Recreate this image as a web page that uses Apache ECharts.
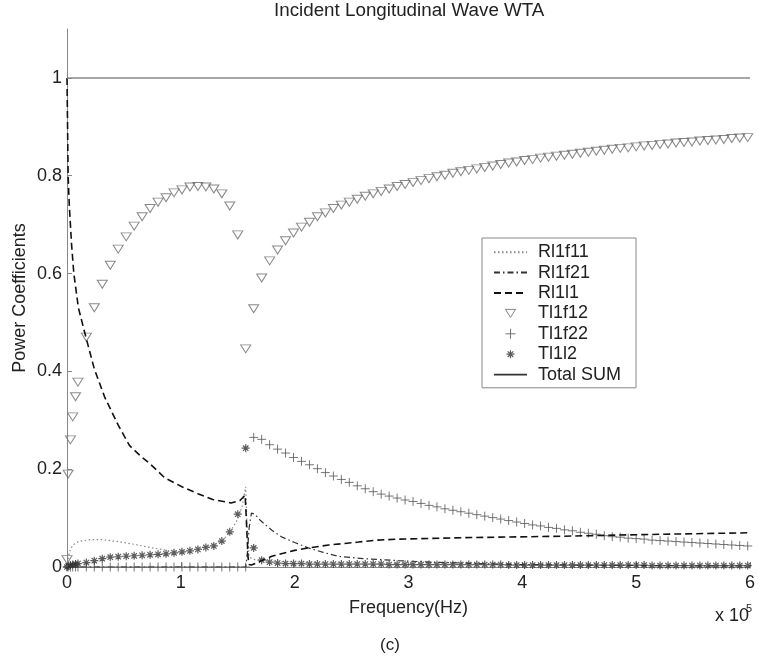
<!DOCTYPE html>
<html>
<head>
<meta charset="utf-8">
<script src="https://cdn.jsdelivr.net/npm/echarts@6/dist/echarts.min.js"></script>
<style>
html,body{margin:0;padding:0;background:#fff;}
#chart{width:758px;height:662px;}
</style>
</head>
<body>
<div id="chart"></div>
<script>
// ---------- DATA ----------
const xTicks = [0, 1, 2, 3, 4, 5, 6];
const yTicks = [0, 0.2, 0.4, 0.6, 0.8, 1];

// dense low-frequency sample points (x 10^5 Hz)
const freqLow = [0, 0.01, 0.03, 0.05, 0.075, 0.096];
// regular sample points (x 10^5 Hz)
const freqGrid = [0.17, 0.24, 0.31, 0.38, 0.45, 0.52, 0.59, 0.66, 0.73, 0.80,
  0.87, 0.94, 1.01, 1.08, 1.15, 1.22, 1.29, 1.36, 1.43, 1.50,
  1.57, 1.64, 1.71, 1.78, 1.85, 1.92, 1.99, 2.06, 2.13, 2.20,
  2.27, 2.34, 2.41, 2.48, 2.55, 2.62, 2.69, 2.76, 2.83, 2.90,
  2.97, 3.04, 3.11, 3.18, 3.25, 3.32, 3.39, 3.46, 3.53, 3.60,
  3.67, 3.74, 3.81, 3.88, 3.95, 4.02, 4.09, 4.16, 4.23, 4.30,
  4.37, 4.44, 4.51, 4.58, 4.65, 4.72, 4.79, 4.86, 4.93, 5.00,
  5.07, 5.14, 5.21, 5.28, 5.35, 5.42, 5.49, 5.56, 5.63, 5.70,
  5.77, 5.84, 5.91, 5.98];

// Tl1f12 (triangles)
const tl1f12Low = [0.015, 0.19, 0.26, 0.307, 0.348, 0.378];
const tl1f12 = [0.47, 0.53, 0.578, 0.617, 0.65, 0.675, 0.697, 0.716, 0.733, 0.746,
  0.755, 0.765, 0.771, 0.777, 0.778, 0.777, 0.773, 0.763, 0.738, 0.679,
  0.446, 0.528, 0.591, 0.626, 0.648, 0.667, 0.683, 0.695, 0.705, 0.716,
  0.724, 0.733, 0.740, 0.746, 0.752, 0.758, 0.763, 0.768, 0.773, 0.778,
  0.782, 0.786, 0.790, 0.794, 0.798, 0.801, 0.805, 0.808, 0.811, 0.814,
  0.817, 0.820, 0.823, 0.826, 0.828, 0.831, 0.833, 0.836, 0.838, 0.840,
  0.842, 0.844, 0.846, 0.848, 0.850, 0.852, 0.854, 0.856, 0.857, 0.859,
  0.861, 0.862, 0.864, 0.865, 0.867, 0.868, 0.869, 0.871, 0.872, 0.873,
  0.874, 0.876, 0.877, 0.878];

// Tl1f22 (plus)
const tl1f22Low = [0, 0, 0, 0, 0, 0];
const tl1f22 = [0, 0, 0, 0, 0, 0, 0, 0, 0, 0,
  0, 0, 0, 0, 0, 0, 0, 0, 0, 0,
  0, 0.265, 0.261, 0.250, 0.241, 0.233, 0.224, 0.216, 0.209, 0.201,
  0.193, 0.186, 0.179, 0.173, 0.166, 0.160, 0.154, 0.149, 0.145, 0.141,
  0.137, 0.134, 0.130, 0.126, 0.123, 0.119, 0.116, 0.113, 0.110, 0.107,
  0.104, 0.101, 0.098, 0.095, 0.092, 0.089, 0.086, 0.084, 0.081, 0.079,
  0.076, 0.074, 0.071, 0.069, 0.067, 0.064, 0.062, 0.061, 0.059, 0.058,
  0.057, 0.055, 0.054, 0.053, 0.052, 0.051, 0.050, 0.049, 0.048, 0.047,
  0.046, 0.045, 0.044, 0.043];

// Tl1l2 (asterisks)
const tl1l2Low = [0, 0.002, 0.004, 0.005, 0.006, 0.007];
const tl1l2 = [0.009, 0.013, 0.017, 0.020, 0.021, 0.022, 0.023, 0.024, 0.025, 0.026,
  0.027, 0.029, 0.031, 0.033, 0.036, 0.040, 0.043, 0.053, 0.072, 0.108,
  0.243, 0.039, 0.014, 0.010, 0.008, 0.007, 0.007, 0.007, 0.006, 0.006,
  0.006, 0.006, 0.006, 0.006, 0.006, 0.006, 0.006, 0.006, 0.005, 0.005,
  0.005, 0.005, 0.005, 0.005, 0.005, 0.005, 0.005, 0.005, 0.005, 0.005,
  0.005, 0.005, 0.005, 0.004, 0.004, 0.004, 0.004, 0.004, 0.004, 0.004,
  0.004, 0.004, 0.004, 0.004, 0.004, 0.004, 0.004, 0.004, 0.004, 0.004,
  0.004, 0.003, 0.003, 0.003, 0.003, 0.003, 0.003, 0.003, 0.003, 0.003,
  0.003, 0.003, 0.003, 0.003];

// Rl1l1 (dashed)
const rl1l1X = [0, 0.005, 0.01, 0.02, 0.04, 0.06, 0.1, 0.166, 0.24, 0.33, 0.45, 0.55, 0.655, 0.725, 0.86, 1.01, 1.15, 1.28, 1.44, 1.52, 1.565,
  1.575, 1.59, 1.60, 1.62, 1.7, 1.8, 1.9, 2.0, 2.12, 2.3, 2.56, 2.73, 2.91, 3.5, 4.37, 5.0, 5.5, 6.0];
const rl1l1Y = [1.0, 0.9, 0.8, 0.74, 0.66, 0.60, 0.53, 0.47, 0.405, 0.348, 0.29, 0.248, 0.225, 0.212, 0.182, 0.164, 0.15, 0.138, 0.131, 0.136, 0.147,
  0.10, 0.02, 0.005, 0.004, 0.012, 0.022, 0.028, 0.034, 0.039, 0.045, 0.051, 0.055, 0.057, 0.060, 0.063, 0.066, 0.068, 0.07];

// Rl1f21 (dash-dot)
const rl1f21X = [0, 1.57, 1.585, 1.60, 1.62, 1.65, 1.7, 1.8, 1.89, 2.0, 2.12, 2.25, 2.38, 2.6, 2.91, 3.2, 3.6, 4.0, 5.0, 6.0];
const rl1f21Y = [0, 0, 0.03, 0.08, 0.11, 0.108, 0.095, 0.075, 0.061, 0.05, 0.039, 0.03, 0.022, 0.017, 0.013, 0.010, 0.007, 0.005, 0.003, 0.002];

// Rl1f11 (dotted)
const rl1f11X = [0, 0.02, 0.05, 0.1, 0.2, 0.3, 0.45, 0.6, 0.75, 0.9, 1.0, 1.1, 1.2, 1.3, 1.4, 1.45, 1.5, 1.54, 1.57,
  1.58, 1.6, 1.65, 1.8, 2.0, 2.5, 3.0, 4.0, 5.0, 6.0];
const rl1f11Y = [0, 0.03, 0.045, 0.052, 0.056, 0.056, 0.052, 0.046, 0.039, 0.033, 0.032, 0.034, 0.038, 0.046, 0.062, 0.078, 0.098, 0.125, 0.164,
  0.09, 0.02, 0.015, 0.012, 0.010, 0.008, 0.007, 0.005, 0.004, 0.004];

// Total SUM (solid)
const totalX = [0, 6];
const totalY = [1, 1];

// ---------- BUILD ----------
const FONT = 'Liberation Sans, Arial, Helvetica, sans-serif';
function pairs(xs, ys) { return ys.map((v, i) => [xs[i], v]); }
function gridPairs(low, main) { return pairs(freqLow, low).concat(pairs(freqGrid, main)); }

const CLEAR = 'rgba(0,0,0,0)';
const TRI = 'path://M0,0L10,0L5,8Z';
const PLUS = 'path://M4,0L4,8M0,4L8,4';
const STAR = 'path://M4,0L4,8M0,4L8,4M1.3,1.3L6.7,6.7M6.7,1.3L1.3,6.7';
const TRI_LEG = 'path://M0,0M14,14M2,3L12,3L7,11Z';
const PLUS_LEG = 'path://M0,0M14,14M7,2L7,12M2,7L12,7';
const STAR_LEG = 'path://M0,0M14,14M7,3L7,11M3,7L11,7M4.2,4.2L9.8,9.8M9.8,4.2L4.2,9.8';

const chart = echarts.init(document.getElementById('chart'), null, {renderer: 'canvas'});
const option = {
  animation: false,
  backgroundColor: '#fff',
  textStyle: {fontFamily: FONT},
  title: {
    text: 'Incident Longitudinal Wave WTA',
    left: 274, top: 1, padding: 0,
    textStyle: {fontSize: 18.8, fontWeight: 'normal', color: '#222', fontFamily: FONT}
  },
  grid: {left: 67, right: 4, top: 29, bottom: 95, containLabel: false},
  xAxis: {
    type: 'value', min: 0, max: 6, interval: 1,
    name: 'Frequency(Hz)', nameLocation: 'middle', nameGap: 32, nameMoveOverlap: false,
    nameTextStyle: {fontSize: 18, color: '#222', fontFamily: FONT},
    axisLine: {show: true, onZero: false, lineStyle: {color: '#888', width: 1}},
    axisTick: {show: true, inside: true, length: 5, lineStyle: {color: '#888'}},
    axisLabel: {fontSize: 18, color: '#222', margin: 7, fontFamily: FONT, customValues: xTicks},
    splitLine: {show: false}
  },
  yAxis: {
    type: 'value', min: 0, max: 1.1, interval: 0.2,
    name: 'Power Coefficients', nameLocation: 'middle', nameGap: 38, nameMoveOverlap: false,
    nameTextStyle: {fontSize: 18, color: '#222', fontFamily: FONT},
    axisLine: {show: true, lineStyle: {color: '#888', width: 1}},
    axisTick: {show: true, inside: true, length: 5, lineStyle: {color: '#888'}, customValues: yTicks},
    axisLabel: {fontSize: 18, color: '#222', margin: 5, fontFamily: FONT, customValues: yTicks},
    splitLine: {show: false}
  },
  legend: {
    orient: 'vertical', left: 482, top: 238,
    itemWidth: 33, itemHeight: 14, itemGap: 0,
    padding: [4, 15, 3, 11],
    borderColor: '#888', borderWidth: 1, backgroundColor: '#fff',
    textStyle: {fontSize: 18, lineHeight: 20.4, color: '#222', fontFamily: FONT, padding: [0, 0, 0, 6]},
    data: [
      {name: 'Rl1f11'},
      {name: 'Rl1f21'},
      {name: 'Rl1l1'},
      {name: 'Tl1f12', icon: TRI_LEG, itemStyle: {color: CLEAR, borderColor: '#666', borderWidth: 1}},
      {name: 'Tl1f22', icon: PLUS_LEG, itemStyle: {color: CLEAR, borderColor: '#555', borderWidth: 1}},
      {name: 'Tl1l2', icon: STAR_LEG, itemStyle: {color: CLEAR, borderColor: '#333', borderWidth: 1.2}},
      {name: 'Total SUM', lineStyle: {color: '#333', width: 1.6}}
    ]
  },
  series: [
    {
      name: 'Tl1f12', type: 'scatter', data: gridPairs(tl1f12Low, tl1f12),
      symbol: TRI, symbolSize: [10, 8], z: 3,
      itemStyle: {color: CLEAR, borderColor: '#6a6a6a', borderWidth: 1}
    },
    {
      name: 'Tl1f22', type: 'scatter', data: gridPairs(tl1f22Low, tl1f22),
      symbol: PLUS, symbolSize: 9, z: 3,
      itemStyle: {color: CLEAR, borderColor: '#555', borderWidth: 1}
    },
    {
      name: 'Tl1l2', type: 'scatter', data: gridPairs(tl1l2Low, tl1l2),
      symbol: STAR, symbolSize: 8, z: 3,
      itemStyle: {color: CLEAR, borderColor: '#333', borderWidth: 1.2}
    },
    {
      name: 'Rl1f11', type: 'line', data: pairs(rl1f11X, rl1f11Y), symbol: 'none', z: 4,
      itemStyle: {color: CLEAR, borderWidth: 0},
      lineStyle: {color: '#888', width: 1.2, type: [1.5, 2.5]}
    },
    {
      name: 'Rl1f21', type: 'line', data: pairs(rl1f21X, rl1f21Y), symbol: 'none', z: 4,
      itemStyle: {color: CLEAR, borderWidth: 0},
      lineStyle: {color: '#333', width: 1.2, type: [6, 3, 1.5, 3]}
    },
    {
      name: 'Rl1l1', type: 'line', data: pairs(rl1l1X, rl1l1Y), symbol: 'none', z: 4,
      itemStyle: {color: CLEAR, borderWidth: 0},
      lineStyle: {color: '#111', width: 1.6, type: [7, 4]}
    },
    {
      name: 'Total SUM', type: 'line', data: pairs(totalX, totalY), symbol: 'none', z: 4,
      itemStyle: {color: CLEAR, borderWidth: 0},
      lineStyle: {color: '#888', width: 1.5, type: 'solid'}
    }
  ],
  graphic: [
    {type: 'text', x: 715, y: 616, style: {text: 'x 10', fontSize: 18, fill: '#222', fontFamily: FONT, verticalAlign: 'middle'}},
    {type: 'text', x: 746, y: 609, style: {text: '5', fontSize: 11, fill: '#222', fontFamily: FONT, verticalAlign: 'middle'}},
    {type: 'text', x: 390, y: 645, style: {text: '(c)', fontSize: 17, fill: '#222', fontFamily: FONT, align: 'center', verticalAlign: 'middle'}}
  ]
};
chart.setOption(option);
</script>
</body>
</html>
